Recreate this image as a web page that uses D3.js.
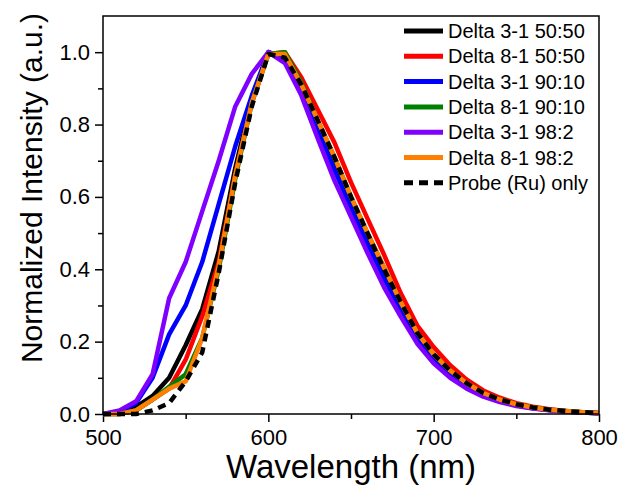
<!DOCTYPE html>
<html>
<head>
<meta charset="utf-8">
<script src="https://cdn.jsdelivr.net/npm/d3@7"></script>
<style>
  body { margin: 0; background: #fff; }
  svg text { font-family: "Liberation Sans", Arial, sans-serif; fill: #000; }
</style>
</head>
<body>
<svg id="chart" width="622" height="488"></svg>
<script>
// wavelengths (nm), 10 nm steps
const wavelength = d3.range(500, 801, 10)

// normalized intensity per sample
const d31_5050 = [0, 0.003, 0.02, 0.05, 0.10, 0.19, 0.29, 0.45, 0.68, 0.87, 1.0, 0.985, 0.90, 0.79, 0.685, 0.58, 0.48, 0.385, 0.30, 0.22, 0.16, 0.115, 0.08, 0.055, 0.038, 0.025, 0.017, 0.011, 0.007, 0.004, 0.002]
const d81_5050 = [0, 0, 0.01, 0.04, 0.07, 0.15, 0.27, 0.42, 0.66, 0.86, 0.995, 1.0, 0.93, 0.84, 0.75, 0.64, 0.54, 0.44, 0.335, 0.245, 0.185, 0.135, 0.095, 0.065, 0.045, 0.03, 0.02, 0.013, 0.008, 0.005, 0.003]
const d31_9010 = [0, 0.005, 0.03, 0.10, 0.22, 0.30, 0.42, 0.58, 0.74, 0.88, 1.0, 0.98, 0.895, 0.785, 0.675, 0.57, 0.47, 0.375, 0.29, 0.21, 0.155, 0.11, 0.078, 0.053, 0.036, 0.024, 0.016, 0.011, 0.007, 0.004, 0.002]
const d81_9010 = [0, 0, 0.01, 0.04, 0.075, 0.11, 0.21, 0.40, 0.65, 0.86, 0.995, 1.0, 0.915, 0.81, 0.71, 0.60, 0.50, 0.405, 0.31, 0.225, 0.165, 0.12, 0.085, 0.058, 0.04, 0.027, 0.018, 0.012, 0.008, 0.005, 0.003]
const d31_982 = [0, 0.01, 0.035, 0.11, 0.32, 0.42, 0.56, 0.70, 0.85, 0.94, 1.0, 0.97, 0.88, 0.76, 0.645, 0.545, 0.445, 0.35, 0.27, 0.195, 0.14, 0.10, 0.07, 0.048, 0.033, 0.022, 0.015, 0.01, 0.006, 0.004, 0.002]
const d81_982 = [0, 0, 0.01, 0.04, 0.07, 0.09, 0.21, 0.41, 0.66, 0.86, 0.995, 0.995, 0.91, 0.81, 0.71, 0.60, 0.50, 0.405, 0.31, 0.225, 0.165, 0.12, 0.085, 0.058, 0.04, 0.027, 0.018, 0.012, 0.008, 0.005, 0.003]
const probeOnly = [0, 0, 0, 0.01, 0.03, 0.09, 0.17, 0.39, 0.64, 0.85, 0.995, 0.985, 0.91, 0.81, 0.71, 0.60, 0.50, 0.40, 0.31, 0.225, 0.165, 0.12, 0.085, 0.058, 0.04, 0.027, 0.018, 0.012, 0.008, 0.005, 0.003]

const seriesNames = ["Delta 3-1 50:50", "Delta 8-1 50:50", "Delta 3-1 90:10", "Delta 8-1 90:10", "Delta 3-1 98:2", "Delta 8-1 98:2", "Probe (Ru) only"]
const seriesValues = [d31_5050, d81_5050, d31_9010, d81_9010, d31_982, d81_982, probeOnly]
const seriesColors = ["#000000", "#ff0000", "#0000ff", "#008000", "#8000ff", "#ff8000", "#000000"]

const xTicks = [500, 600, 700, 800]
const xMinor = [550, 650, 750]
const yTicks = [0, 0.2, 0.4, 0.6, 0.8, 1.0]
const yMinor = [0.1, 0.3, 0.5, 0.7, 0.9]

const margin = {top: 16, right: 23, bottom: 74, left: 103}
const width = 622, height = 488
const svg = d3.select("#chart")

const x = d3.scaleLinear().domain([500, 800]).range([margin.left, width - margin.right])
const y = d3.scaleLinear().domain([0, 1.1]).range([height - margin.bottom, margin.top])

// axes
const xAxis = svg.append("g")
  .attr("transform", `translate(0,${height - margin.bottom})`)
  .call(d3.axisBottom(x).tickValues(xTicks).tickSize(8).tickPadding(7).tickSizeOuter(0))
const xMinorAxis = svg.append("g")
  .attr("transform", `translate(0,${height - margin.bottom})`)
  .call(d3.axisBottom(x).tickValues(xMinor).tickSize(5).tickFormat("").tickSizeOuter(0))
const yAxis = svg.append("g")
  .attr("transform", `translate(${margin.left},0)`)
  .call(d3.axisLeft(y).tickValues(yTicks).tickFormat(d3.format(".1f")).tickSize(8).tickPadding(5).tickSizeOuter(0))
const yMinorAxis = svg.append("g")
  .attr("transform", `translate(${margin.left},0)`)
  .call(d3.axisLeft(y).tickValues(yMinor).tickSize(5).tickFormat("").tickSizeOuter(0))

for (const g of [xAxis, xMinorAxis, yAxis, yMinorAxis]) {
  g.select(".domain").remove()
  g.selectAll("line").attr("stroke", "#000").attr("stroke-width", 1.5)
  g.selectAll("text").style("font-size", "22px").attr("font-family", null)
}

// curves
const line = d3.line()
  .x((d, i) => x(wavelength[i]))
  .y(d => y(d))

seriesValues.forEach((vals, k) => {
  svg.append("path")
    .datum(vals)
    .attr("fill", "none")
    .attr("stroke", seriesColors[k])
    .attr("stroke-width", 4.5)
    .attr("stroke-linejoin", "round")
    .attr("stroke-dasharray", k == 6 ? "8,6" : null)
    .attr("d", line)
})

// frame
svg.append("rect")
  .attr("x", margin.left).attr("y", margin.top)
  .attr("width", width - margin.left - margin.right)
  .attr("height", height - margin.top - margin.bottom)
  .attr("fill", "none").attr("stroke", "#000").attr("stroke-width", 1.5)

// legend
const legend = svg.append("g")
seriesNames.forEach((name, k) => {
  const cy = 31 + k * 25.3
  legend.append("line")
    .attr("x1", 404).attr("x2", 443).attr("y1", cy).attr("y2", cy)
    .attr("stroke", seriesColors[k]).attr("stroke-width", 5)
    .attr("stroke-dasharray", k == 6 ? "9,6" : null)
  legend.append("text")
    .attr("x", 448).attr("y", cy + 7)
    .style("font-size", "20px")
    .text(name)
})

// axis titles
svg.append("text")
  .attr("x", (margin.left + width - margin.right) / 2).attr("y", 478)
  .attr("text-anchor", "middle")
  .style("font-size", "33px")
  .text("Wavelength (nm)")
svg.append("text")
  .attr("transform", "translate(42,188) rotate(-90)")
  .attr("text-anchor", "middle")
  .style("font-size", "30px")
  .text("Normalized Intensity (a.u.)")
</script>
</body>
</html>
